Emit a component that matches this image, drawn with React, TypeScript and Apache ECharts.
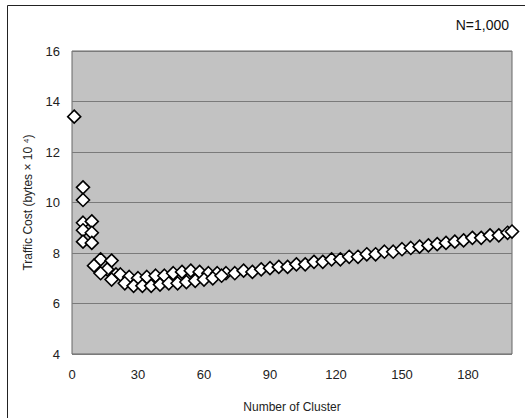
import React, { useEffect, useRef } from "react";
import * as echarts from "echarts";

// Early (small cluster count) points
const earlyX = [1, 5, 5, 5, 9, 5, 9, 5, 9, 13, 18, 10, 16, 13, 20, 18];
const earlyY = [13.4, 10.6, 10.1, 9.2, 9.25, 8.9, 8.8, 8.45, 8.4, 7.75, 7.7, 7.5, 7.35, 7.2, 7.15, 6.95];

// Upper row, 22..70
const upperX = [22, 26, 30, 34, 38, 42, 46, 50, 54, 58, 62, 66, 70];
const upperY = [7.15, 7.05, 7.0, 7.05, 7.1, 7.1, 7.2, 7.25, 7.3, 7.25, 7.2, 7.2, 7.2];

// Lower row, 24..68
const lowerX = [24, 28, 32, 36, 40, 44, 48, 52, 56, 60, 64, 68];
const lowerY = [6.8, 6.7, 6.7, 6.7, 6.75, 6.8, 6.8, 6.85, 6.9, 6.95, 7.0, 7.1];

// Merged rising row, 74..200
const mainX = [74, 78, 82, 86, 90, 94, 98, 102, 106, 110, 114, 118, 122, 126, 130, 134, 138, 142, 146, 150, 154, 158, 162, 166, 170, 174, 178, 182, 186, 190, 194, 198, 200];
const mainY = [7.2, 7.3, 7.25, 7.35, 7.4, 7.45, 7.45, 7.55, 7.55, 7.65, 7.65, 7.75, 7.75, 7.85, 7.85, 7.95, 7.95, 8.05, 8.05, 8.15, 8.2, 8.25, 8.3, 8.35, 8.4, 8.45, 8.5, 8.6, 8.6, 8.7, 8.7, 8.8, 8.85];

const xTicks = { min: 0, max: 200, interval: 30 };
const yTicks = { min: 4, max: 16, interval: 2 };

function pairs(xs: number[], ys: number[]) {
  return xs.map((x, i) => [x, ys[i]]);
}

export default function App() {
  const ref = useRef<HTMLDivElement>(null);
  useEffect(() => {
    document.body.style.margin = "0";
    const chart = echarts.init(ref.current!, null, { renderer: "svg" });
    const font = "Liberation Sans, Arial, sans-serif";
    const data = [
      ...pairs(earlyX, earlyY),
      ...pairs(upperX, upperY),
      ...pairs(lowerX, lowerY),
      ...pairs(mainX, mainY),
    ];
    chart.setOption({
      animation: false,
      backgroundColor: "#ffffff",
      grid: {
        left: 72,
        right: 13,
        top: 51,
        bottom: 61,
        show: true,
        backgroundColor: "#c2c2c2",
        borderColor: "#666",
        borderWidth: 1,
      },
      graphic: [
        { type: "line", shape: { x1: 7.5, y1: 5.5, x2: 525, y2: 5.5 }, style: { stroke: "#222", lineWidth: 1 } },
        { type: "line", shape: { x1: 7.5, y1: 5.5, x2: 7.5, y2: 418 }, style: { stroke: "#222", lineWidth: 1 } },
        {
          type: "text",
          right: 16,
          top: 18,
          style: { text: "N=1,000", font: `14px ${font}`, fill: "#111" },
        },
      ],
      xAxis: {
        type: "value",
        min: xTicks.min,
        max: xTicks.max,
        interval: xTicks.interval,
        name: "Number of Cluster",
        nameLocation: "middle",
        nameGap: 47,
        nameTextStyle: { fontFamily: font, fontSize: 12, color: "#222" },
        axisLine: { show: false },
        axisTick: { show: false },
        splitLine: { show: false },
        axisLabel: { showMaxLabel: false, fontFamily: font, fontSize: 13, color: "#222", margin: 14 },
      },
      yAxis: {
        type: "value",
        min: yTicks.min,
        max: yTicks.max,
        interval: yTicks.interval,
        name: "Traffic Cost (bytes × 10 ⁴)",
        nameLocation: "middle",
        nameGap: 38,
        nameTextStyle: { fontFamily: font, fontSize: 12, color: "#222" },
        axisLine: { show: false },
        axisTick: { show: false },
        splitLine: { show: true, lineStyle: { color: "#7a7a7a", width: 1 } },
        axisLabel: { fontFamily: font, fontSize: 13, color: "#222", margin: 12 },
      },
      series: [
        {
          type: "scatter",
          data,
          symbol: "diamond",
          symbolSize: [13, 13],
          itemStyle: { color: "#ffffff", borderColor: "#000", borderWidth: 1.6, opacity: 1 },
        },
      ],
    });
    return () => chart.dispose();
  }, []);
  return <div ref={ref} style={{ width: 525, height: 418 }} />;
}
